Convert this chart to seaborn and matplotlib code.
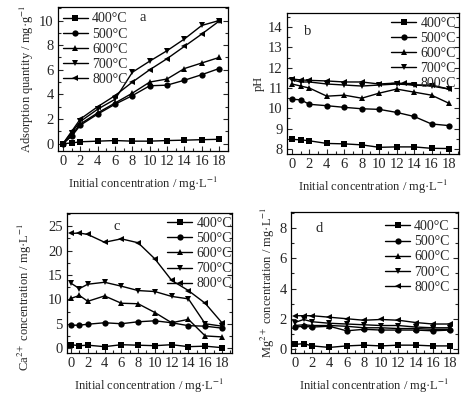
import numpy as np
import pandas as pd
import matplotlib
matplotlib.use("Agg")
import matplotlib.pyplot as plt
import seaborn as sns
from matplotlib.ticker import MultipleLocator

conc = [0, 1, 2, 4, 6, 8, 10, 12, 14, 16, 18]
temps = ["400°C", "500°C", "600°C", "700°C", "800°C"]

ads_400 = [0, 0.05, 0.15, 0.2, 0.25, 0.2, 0.2, 0.25, 0.28, 0.32, 0.35]
ads_500 = [0, 0.6, 1.5, 2.4, 3.2, 3.9, 4.7, 4.75, 5.15, 5.6, 6.1]
ads_600 = [0, 0.7, 1.6, 2.5, 3.3, 4.1, 5.0, 5.25, 6.1, 6.55, 7.0]
ads_700 = [0, 0.9, 1.8, 2.8, 3.6, 5.8, 6.7, 7.55, 8.5, 9.6, 10.0]
ads_800 = [0, 1.0, 2.0, 3.0, 3.9, 5.0, 6.0, 6.9, 7.9, 8.9, 9.95]

ph_400 = [8.47, 8.45, 8.4, 8.27, 8.25, 8.2, 8.08, 8.1, 8.1, 8.03, 8.02]
ph_500 = [10.45, 10.42, 10.2, 10.13, 10.05, 9.98, 9.95, 9.8, 9.6, 9.23, 9.15]
ph_600 = [11.2, 11.1, 11.0, 10.6, 10.65, 10.5, 10.75, 10.95, 10.8, 10.65, 10.25]
ph_700 = [11.4, 11.3, 11.3, 11.2, 11.15, 11.1, 11.15, 11.2, 11.15, 11.1, 10.95]
ph_800 = [11.45, 11.4, 11.38, 11.35, 11.3, 11.3, 11.2, 11.25, 11.15, 11.15, 10.95]

ca_400 = [0.7, 0.5, 0.6, 0.3, 0.7, 0.6, 0.5, 0.7, 0.3, 0.4, 0.1]
ca_500 = [4.7, 4.7, 4.9, 5.2, 5.0, 5.4, 5.6, 5.2, 4.6, 4.5, 4.1]
ca_600 = [10.2, 10.8, 9.6, 10.7, 9.2, 9.1, 7.3, 5.2, 5.9, 2.5, 2.3]
ca_700 = [13.3, 12.2, 13.1, 13.5, 12.7, 11.8, 11.6, 10.6, 10.1, 5.0, 4.5]
ca_800 = [23.5, 23.6, 23.3, 21.7, 22.4, 21.6, 18.3, 13.9, 11.8, 9.2, 5.2]

mg_400 = [0.3, 0.35, 0.2, 0.1, 0.2, 0.25, 0.2, 0.25, 0.25, 0.2, 0.2]
mg_500 = [1.45, 1.5, 1.45, 1.5, 1.2, 1.3, 1.25, 1.25, 1.25, 1.2, 1.25]
mg_600 = [1.55, 1.6, 1.55, 1.55, 1.5, 1.4, 1.4, 1.35, 1.35, 1.3, 1.3]
mg_700 = [1.75, 1.95, 1.8, 1.7, 1.65, 1.6, 1.55, 1.55, 1.45, 1.4, 1.4]
mg_800 = [2.2, 2.2, 2.2, 2.1, 2.0, 1.9, 1.95, 1.9, 1.75, 1.65, 1.65]

def long_df(series):
    rows = []
    for t, vals in zip(temps, series):
        for x, v in zip(conc, vals):
            rows.append({"conc": x, "val": v, "temp": t})
    return pd.DataFrame(rows)

sns.set_style("ticks")
plt.rcParams["font.family"] = ["Liberation Serif", "DejaVu Serif"]
plt.rcParams["mathtext.fontset"] = "stix"
plt.rcParams["font.size"] = 10

fig = plt.figure(figsize=(4.66, 3.96), dpi=100)
W, H = 466.0, 396.0

def make_ax(l, r, t, b):
    return fig.add_axes([l / W, 1 - b / H, (r - l) / W, (b - t) / H])

panels = [
    dict(box=(58, 228, 7, 151), data=[ads_400, ads_500, ads_600, ads_700, ads_800],
         xlim=(-0.58, 19.03), ylim=(-0.6, 11.1), ymaj=2, ymin=1,
         ylabel="Adsorption quantity / mg·g$^{-1}$", tag="a", tagpos=(0.5, 0.93),
         legloc="upper left", legbbox=(-0.02, 1.02), labely=None),
    dict(box=(287, 459, 13, 154), data=[ph_400, ph_500, ph_600, ph_700, ph_800],
         xlim=(-0.57, 19.15), ylim=(7.75, 14.7), ymaj=1, ymin=0.5,
         ylabel="pH", tag="b", tagpos=(0.12, 0.87),
         legloc="upper right", legbbox=(1.03, 1.03), labely=None),
    dict(box=(67, 232, 213, 353), data=[ca_400, ca_500, ca_600, ca_700, ca_800],
         xlim=(-0.48, 19.2), ylim=(-1.0, 27.7), ymaj=5, ymin=2.5,
         ylabel="Ca$^{2+}$ concentration / mg·L$^{-1}$", tag="c", tagpos=(0.3, 0.9),
         legloc="upper right", legbbox=(1.05, 1.03), labely=(-0.2, 0.4)),
    dict(box=(291, 458, 212, 353), data=[mg_400, mg_500, mg_600, mg_700, mg_800],
         xlim=(-0.46, 18.93), ylim=(-0.27, 9.07), ymaj=2, ymin=1,
         ylabel="Mg$^{2+}$ concentration / mg·L$^{-1}$", tag="d", tagpos=(0.17, 0.88),
         legloc="upper right", legbbox=(1.0, 1.0), labely=None),
]

markers = ["s", "o", "^", "v", "<"]

for p in panels:
    ax = make_ax(*p["box"])
    df = long_df(p["data"])
    sns.lineplot(data=df, x="conc", y="val", style="temp", markers=markers,
                 dashes=False, color="black", markersize=4.5, linewidth=1.0,
                 markeredgewidth=0, ax=ax)
    ax.set_xlim(*p["xlim"])
    ax.set_ylim(*p["ylim"])
    ax.xaxis.set_major_locator(MultipleLocator(2))
    ax.xaxis.set_minor_locator(MultipleLocator(1))
    ax.yaxis.set_major_locator(MultipleLocator(p["ymaj"]))
    ax.yaxis.set_minor_locator(MultipleLocator(p["ymin"]))
    ax.tick_params(which="both", direction="in", right=True, top=False,
                   labelsize=10.5, pad=3)
    ax.tick_params(which="major", length=3.5, width=0.8)
    ax.tick_params(which="minor", length=2, width=0.8)
    for s in ax.spines.values():
        s.set_linewidth(0.9)
        s.set_color("black")
    ax.set_xlabel("Initial concentration / mg·L$^{-1}$", fontsize=9, labelpad=5)
    ax.set_ylabel(p["ylabel"], fontsize=9, labelpad=2)
    if p["labely"] is not None:
        ax.yaxis.set_label_coords(*p["labely"])
    ax.text(p["tagpos"][0], p["tagpos"][1], p["tag"], transform=ax.transAxes,
            fontsize=10.5, ha="center", va="center")
    leg = ax.legend(loc=p["legloc"], bbox_to_anchor=p["legbbox"], frameon=False,
                    fontsize=10, handlelength=1.8, handletextpad=0.3,
                    labelspacing=0.15, borderaxespad=0.2)
    leg.set_title(None)

fig.savefig("out.png", dpi=100)
